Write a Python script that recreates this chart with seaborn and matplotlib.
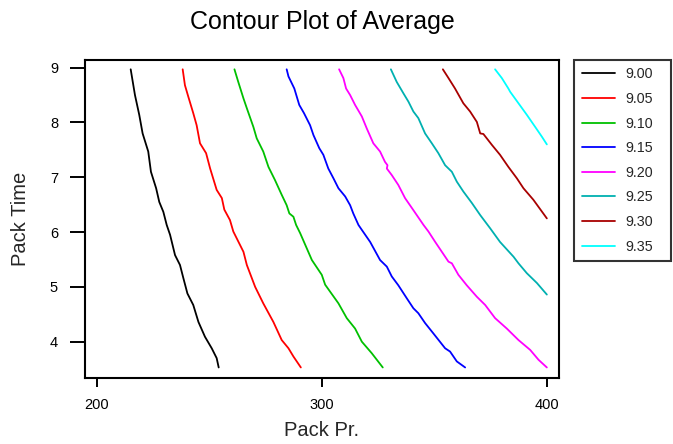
import matplotlib
matplotlib.use("Agg")
import matplotlib.pyplot as plt
import seaborn as sns
import pandas as pd

# ---- data (Pack Pr. vs Pack Time for each contour level) ----
levels = ["9.00", "9.05", "9.10", "9.15", "9.20", "9.25", "9.30", "9.35"]
colors = ["#000000", "#FF0000", "#00C000", "#0000FF", "#FF00FF", "#00B0B0", "#A80000", "#00FFFF"]

pr_900 = [215.1, 217.0, 218.9, 220.4, 222.9, 224.1, 226.4, 227.8, 229.6, 231.1, 232.6, 234.8,
          237.0, 238.5, 240.3, 242.9, 245.2, 248.1, 251.1, 253.3, 254.2]
time_900 = [8.97, 8.50, 8.14, 7.80, 7.47, 7.10, 6.80, 6.55, 6.37, 6.13, 5.95, 5.58,
            5.40, 5.16, 4.88, 4.67, 4.36, 4.09, 3.88, 3.70, 3.53]

pr_905 = [238.2, 239.2, 240.7, 242.9, 244.4, 245.9, 248.6, 250.4, 253.3, 255.6, 256.7, 259.2,
          260.7, 265.2, 266.7, 270.4, 274.0, 278.5, 282.2, 285.2, 287.4, 290.7]
time_905 = [8.97, 8.68, 8.47, 8.17, 7.95, 7.62, 7.44, 7.16, 6.77, 6.62, 6.41, 6.22,
            6.01, 5.64, 5.40, 5.00, 4.70, 4.36, 4.03, 3.88, 3.73, 3.53]

pr_910 = [261.2, 262.9, 265.2, 266.7, 269.6, 271.1, 274.0, 276.3, 279.2, 282.2, 284.4, 285.6,
          287.4, 288.6, 290.4, 295.6, 300.0, 301.5, 307.4, 311.1, 314.8, 317.8, 322.2, 327.1]
time_910 = [8.97, 8.74, 8.44, 8.26, 7.92, 7.71, 7.47, 7.19, 6.95, 6.68, 6.49, 6.34,
            6.28, 6.13, 5.98, 5.49, 5.22, 5.04, 4.70, 4.43, 4.24, 4.00, 3.79, 3.53]

pr_915 = [284.4, 285.2, 287.8, 290.0, 292.1, 294.8, 296.3, 298.9, 300.7, 302.9, 305.2, 307.4,
          310.4, 312.6, 314.0, 316.3, 317.8, 321.5, 325.9, 328.9, 331.1, 334.0, 337.8, 340.7,
          342.9, 345.9, 349.6, 354.8, 357.0, 360.0, 363.7]
time_915 = [8.97, 8.84, 8.62, 8.32, 8.17, 7.95, 7.77, 7.53, 7.41, 7.16, 6.98, 6.80,
            6.65, 6.49, 6.34, 6.13, 6.04, 5.82, 5.49, 5.37, 5.19, 5.03, 4.79, 4.61,
            4.52, 4.34, 4.15, 3.88, 3.82, 3.64, 3.53]

pr_920 = [307.7, 309.6, 310.8, 312.6, 314.8, 317.8, 320.0, 322.9, 325.9, 328.1, 329.2, 328.9,
          331.1, 334.0, 337.0, 340.7, 342.2, 345.2, 347.4, 350.4, 356.3, 357.8, 360.7, 364.4,
          368.9, 372.6, 377.0, 382.2, 387.4, 392.6, 396.3, 400.0]
time_920 = [8.97, 8.81, 8.62, 8.50, 8.32, 8.11, 7.89, 7.62, 7.47, 7.28, 7.22, 7.16,
            7.04, 6.86, 6.62, 6.40, 6.31, 6.13, 6.01, 5.82, 5.46, 5.43, 5.22, 5.03,
            4.82, 4.67, 4.43, 4.24, 4.03, 3.85, 3.67, 3.53]

pr_925 = [330.7, 333.3, 336.3, 338.5, 340.7, 342.9, 345.9, 348.9, 351.8, 354.8, 357.8, 360.0,
          362.9, 366.7, 370.4, 374.8, 379.2, 385.2, 387.4, 391.1, 395.6, 400.0]
time_925 = [8.97, 8.74, 8.53, 8.38, 8.20, 8.08, 7.80, 7.62, 7.44, 7.22, 7.10, 6.92,
            6.74, 6.53, 6.31, 6.07, 5.82, 5.55, 5.43, 5.25, 5.07, 4.86]

pr_930 = [353.8, 356.3, 359.2, 362.9, 365.9, 368.9, 370.4, 371.8, 375.6, 379.2, 382.9, 386.7,
          389.6, 394.0, 400.0]
time_930 = [8.97, 8.81, 8.62, 8.35, 8.20, 8.01, 7.80, 7.79, 7.59, 7.41, 7.19, 6.98,
            6.80, 6.59, 6.25]

pr_935 = [377.0, 380.0, 382.9, 383.7, 387.4, 391.1, 394.8, 397.8, 400.0]
time_935 = [8.97, 8.81, 8.62, 8.56, 8.35, 8.14, 7.92, 7.74, 7.60]

x_ticks = [200, 300, 400]
y_ticks = [4, 5, 6, 7, 8, 9]

# ---- build long table ----
series = [(pr_900, time_900), (pr_905, time_905), (pr_910, time_910), (pr_915, time_915),
          (pr_920, time_920), (pr_925, time_925), (pr_930, time_930), (pr_935, time_935)]
frames = []
for lev, (xs, ys) in zip(levels, series):
    frames.append(pd.DataFrame({"Pack Pr.": xs, "Pack Time": ys, "level": lev}))
df = pd.concat(frames, ignore_index=True)

sns.set_theme(style="white")
plt.rcParams["font.family"] = ["Liberation Sans", "DejaVu Sans"]

fig = plt.figure(figsize=(6.73, 4.44), dpi=100)
ax = fig.add_axes([85 / 673, (444 - 377.7) / 444, (559 - 85) / 673, (377.7 - 60) / 444])

sns.lineplot(data=df, x="Pack Pr.", y="Pack Time", hue="level", hue_order=levels,
             palette=dict(zip(levels, colors)), sort=False, estimator=None,
             linewidth=1.3, ax=ax)

ax.set_xlim(194.8, 405.4)
ax.set_ylim(3.343, 9.14)
ax.set_xticks(x_ticks)
ax.set_xticklabels([str(v) for v in x_ticks])
ax.set_yticks(y_ticks)
ax.set_yticklabels([str(v) for v in y_ticks])

for s in ax.spines.values():
    s.set_visible(True)
    s.set_color("black")
    s.set_linewidth(1.5)

ax.tick_params(axis="x", direction="out", length=6.8, width=1.4, pad=8, labelsize=10.5,
               colors="black", bottom=True)
ax.tick_params(axis="y", direction="out", length=10.8, width=1.4, pad=8.6, labelsize=10.5,
               colors="black", left=True)

ax.set_xlabel("Pack Pr.", fontsize=14.5, labelpad=6)
ax.set_ylabel("Pack Time", fontsize=14.5, labelpad=14)

fig.text((85 + 559) / 2 / 673, 1 - 29 / 444, "Contour Plot of Average", ha="center",
         va="baseline", fontsize=18, color="black")

leg = ax.legend(loc="upper left",
                bbox_to_anchor=(574.3 / 673, 1 - 60 / 444, 96.7 / 673, 0.0),
                bbox_transform=fig.transFigure, mode="expand",
                fontsize=10.3, handlelength=2.35, handletextpad=0.7, labelspacing=0.74,
                borderpad=0.52, borderaxespad=0, frameon=True, fancybox=False,
                title=None)
leg.get_frame().set_edgecolor("black")
leg.get_frame().set_linewidth(1.5)
for line in leg.get_lines():
    line.set_linewidth(1.3)

fig.savefig("out.png", dpi=100)
